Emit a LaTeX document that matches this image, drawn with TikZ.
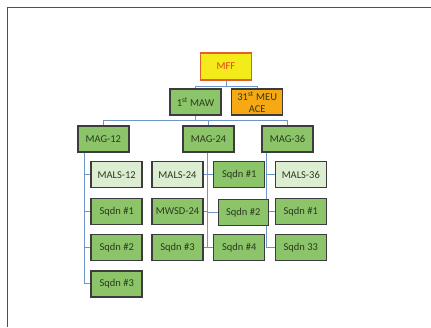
\documentclass[tikz,border=0pt]{standalone}
\usepackage{fontspec}
\setmainfont{Carlito}
\usetikzlibrary{backgrounds}
\definecolor{boxgreen}{HTML}{8CC46A}
\definecolor{lightgreen}{HTML}{DCEDD2}
\definecolor{boxyellow}{HTML}{F4EC1A}
\definecolor{boxorange}{HTML}{F6A912}
\definecolor{boxborder}{HTML}{3C3C3C}
\definecolor{redborder}{HTML}{E0612C}
\definecolor{redtext}{HTML}{E2401E}
\definecolor{linkblue}{HTML}{6F96C9}
\definecolor{textdark}{HTML}{2B3A1E}
\definecolor{framegray}{HTML}{505050}
\tikzset{
  unit/.style={draw=boxborder, line width=1.5pt, minimum width=51pt, minimum height=26pt,
    inner sep=0pt, font=\fontsize{10.5}{12}\selectfont, text=textdark, align=center},
  gbox/.style={unit, fill=boxgreen},
  lbox/.style={unit, fill=lightgreen},
  obox/.style={unit, fill=boxorange},
  ybox/.style={unit, fill=boxyellow, draw=redborder, text=redtext, minimum height=27pt},
  link/.style={draw=linkblue, line width=0.9pt},
  frameline/.style={draw=framegray, line width=1.2pt}
}
\begin{document}
\begin{tikzpicture}[x=1pt, y=-1pt]
\useasboundingbox (0,0) rectangle (431,327);
\draw[frameline] (7.3,327) -- (7.3,7.3) -- (431,7.3);

% top levels
\node[ybox] (mff) at (226,66.3) {MFF};
\node[gbox] (maw) at (195.5,102) {1\textsuperscript{st} MAW};
\node[obox, font=\fontsize{10.5}{11.5}\selectfont] (meu) at (257.2,102) {31\textsuperscript{st} MEU\\ACE};

\node[gbox] (mag12) at (103.3,138.8) {MAG-12};
\node[gbox] (mag24) at (208.5,138.8) {MAG-24};
\node[gbox] (mag36) at (287.5,138.8) {MAG-36};

% MAG-12 column
\node[lbox] (mals12) at (116.7,174.7) {MALS-12};
\node[gbox] (s12a) at (116.7,211.3) {Sqdn \#1};
\node[gbox] (s12b) at (116.7,247.5) {Sqdn \#2};
\node[gbox] (s12c) at (116.7,283.8) {Sqdn \#3};

% MAG-24 columns
\node[lbox] (mals24) at (177.5,174.7) {MALS-24};
\node[gbox] (mwsd24) at (177.5,211.3) {MWSD-24};
\node[gbox] (s24c) at (177.5,247.5) {Sqdn \#3};
\node[gbox] (s24a) at (239.2,174.7) {Sqdn \#1};
\node[gbox, minimum width=50pt] (s24b) at (243.3,212.7) {Sqdn \#2};
\node[gbox] (s24d) at (239.2,247.5) {Sqdn \#4};

% MAG-36 column
\node[lbox] (mals36) at (300.8,174.7) {MALS-36};
\node[gbox] (s36a) at (300.8,211.3) {Sqdn \#1};
\node[gbox] (s36b) at (300.8,247.5) {Sqdn 33};

% bus coordinates
\coordinate (b1) at (226,86);
\coordinate (b2) at (195.5,120);
\coordinate (v12) at (84,152);
\coordinate (v24) at (207.3,152);
\coordinate (v36) at (266.7,152);

% connectors, drawn behind the boxes
\begin{scope}[on background layer]
  \draw[link] (mff.south) -- (b1);
  \draw[link] (b1) -| (maw.north);
  \draw[link] (b1) -| (meu.north);
  \draw[link] (maw.south) -- (b2);
  \draw[link] (b2) -| (mag12.north);
  \draw[link] (b2) -| (mag24.north);
  \draw[link] (b2) -| (mag36.north);
  % MAG-12
  \draw[link] (v12) |- (s12c.west);
  \draw[link] (v12 |- mals12.west) -- (mals12.west);
  \draw[link] (v12 |- s12a.west) -- (s12a.west);
  \draw[link] (v12 |- s12b.west) -- (s12b.west);
  % MAG-24
  \draw[link] (v24) -- (v24 |- s24c.east);
  \draw[link] (mals24.east) -- (s24a.west);
  \draw[link] (mwsd24.east) -- (v24 |- mwsd24.east);
  \draw[link] (v24 |- s24b.west) -- (s24b.west);
  \draw[link] (s24c.east) -- (s24d.west);
  % MAG-36
  \draw[link] (v36) |- (s36b.west);
  \draw[link] (v36 |- mals36.west) -- (mals36.west);
  \draw[link] (v36 |- s36a.west) -- (s36a.west);
\end{scope}
\end{tikzpicture}
\end{document}
